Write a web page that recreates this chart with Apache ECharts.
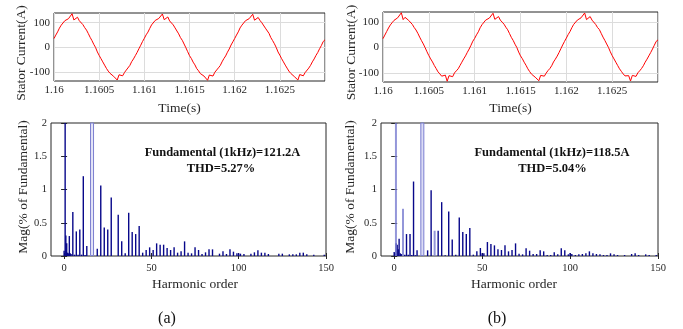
<!DOCTYPE html>
<html>
<head>
<meta charset="utf-8">
<script src="https://cdn.jsdelivr.net/npm/echarts@6/dist/echarts.min.js"></script>
<style>
  html, body { margin: 0; padding: 0; background: #fff; }
  #chart { width: 683px; height: 329px; }
</style>
</head>
<body>
<div id="chart"></div>
<script>
// Stator current samples, one every 20 µs from t = 1.16 s to 1.163 s
const T_START = 1.16;
const T_STEP = 0.00002;

const currentA = [
  36,50,63,78,90,98,108,113,116,113,136,111,118,122,108,100,92,80,70,56,
  41,28,13,0,-18,-32,-45,-58,-71,-84,-95,-104,-112,-116,-110,-131,-110,-117,-114,-101,
  -91,-83,-72,-57,-46,-33,-20,-5,9,24,
  37,51,62,77,91,97,109,114,117,112,135,112,117,123,107,101,91,79,71,55,
  40,29,14,-1,-17,-33,-44,-59,-70,-85,-94,-105,-113,-115,-109,-132,-111,-116,-115,-100,
  -92,-82,-73,-58,-45,-34,-19,-6,10,23,
  36,50,63,79,90,98,108,113,116,112,134,110,118,121,109,100,92,78,70,57,
  40,28,15,0,-18,-31,-45,-58,-71,-83,-95,-104,-112,-117,-110,-131,-109,-117,-114,-101,
  -93,-83,-72,-58,-46,-32,-20,-5,8,24,
  31
];

const currentB = [
  35,49,63,77,89,98,107,114,117,112,137,110,119,121,107,101,91,79,69,56,
  41,27,14,-1,-17,-32,-45,-57,-71,-83,-96,-104,-113,-116,-109,-133,-111,-116,-115,-100,
  -92,-84,-71,-58,-45,-33,-19,-6,9,25,
  36,50,62,78,90,97,108,113,116,113,135,111,118,122,108,100,92,80,70,55,
  40,28,13,0,-18,-33,-44,-58,-70,-84,-95,-105,-112,-117,-110,-131,-110,-117,-113,-101,
  -91,-83,-72,-57,-46,-34,-20,-5,10,24,
  37,51,63,78,91,98,108,113,117,112,136,110,117,122,108,101,91,79,71,56,
  41,28,14,0,-17,-32,-45,-58,-71,-84,-94,-104,-112,-116,-111,-132,-110,-116,-114,-100,
  -92,-83,-72,-58,-46,-33,-20,-6,9,24,
  30
];

// Harmonic spectra (% of fundamental); values above 2 run off the top of the axes
const harmA = [0,0.6,1,1.5,2,2.5,3,3.5,4,5,6,7,8,9,10,11,12,13,19,21,
  23,25,27,31,33,35,37,39,41,43,45,47,49,51,53,55,57,59,61,63,
  65,67,69,71,73,75,77,79,81,83,85,89,91,93,95,97,99,100,101,103,
  107,109,111,113,115,117,123,125,129,131,133,135,137,139,143,149];
const magA = [0.08,2.4,0.31,0.19,0.05,0.04,0.3,0.04,0.03,0.66,0.02,0.37,0.02,0.4,0.02,1.2,0.015,0.15,0.11,1.06,
  0.43,0.4,0.88,0.62,0.22,0.04,0.65,0.36,0.33,0.45,0.05,0.09,0.13,0.09,0.19,0.17,0.17,0.12,0.09,0.13,
  0.05,0.07,0.22,0.05,0.04,0.13,0.09,0.03,0.055,0.1,0.1,0.035,0.07,0.03,0.1,0.065,0.04,0.04,0.035,0.03,
  0.035,0.055,0.085,0.05,0.05,0.03,0.035,0.035,0.025,0.025,0.025,0.05,0.05,0.025,0.02,0.02];
const harmAWide = [16];
const magAWide = [2.4];

const harmB = [0,0.5,1.1,1.7,2.3,2.8,3.5,4,6,7,8,9,10,11,12,13,19,21,25,27,
  29,31,33,35,37,39,41,43,45,47,49,50,51,53,55,57,59,61,63,65,
  67,69,71,73,75,77,79,81,83,85,87,89,91,93,95,97,99,100,101,103,
  105,107,109,111,113,115,117,119,121,123,125,127,131,135,137,139,143,145,149];
const magB = [0.06,0.04,0.19,0.17,0.1,0.26,0.04,0.03,0.02,0.33,0.02,0.33,0.015,1.12,0.01,0.085,0.085,0.99,0.38,0.81,
  0.01,0.67,0.25,0.02,0.58,0.36,0.33,0.42,0.02,0.07,0.12,0.04,0.04,0.21,0.18,0.16,0.1,0.09,0.16,0.07,
  0.09,0.19,0.035,0.025,0.115,0.08,0.03,0.03,0.085,0.07,0.015,0.015,0.055,0.025,0.115,0.085,0.025,0.045,0.03,0.015,
  0.025,0.03,0.04,0.07,0.04,0.03,0.025,0.015,0.015,0.04,0.025,0.015,0.015,0.03,0.04,0.015,0.025,0.015,0.015];
const harmBLight = [1, 5, 23];
const magBLight = [2.4, 0.71, 0.38];
const harmBWide = [16];
const magBWide = [2.4];

const currentTicks = [-100, 0, 100];
const harmonicTicks = [0, 50, 100, 150];

const textA = ['Fundamental (1kHz)=121.2A', 'THD=5.27%'];
const textB = ['Fundamental (1kHz)=118.5A', 'THD=5.04%'];

// ---- styling ----
const FONT = 'Liberation Serif, Times New Roman, serif';
const INK = '#262626';
const DARK_BAR = '#07078a';

const toTimeSeries = arr => arr.map((v, i) => [+(T_START + i * T_STEP).toFixed(6), v]);
const pairs = (xs, ys) => xs.map((x, i) => [x, ys[i]]);

function timeAxis(grid) {
  return {
    type: 'value', gridIndex: grid, min: 1.16, max: 1.163, interval: 0.0005,
    axisLine: { show: false }, axisTick: { show: false },
    splitLine: { show: true, lineStyle: { color: '#dcdcdc', width: 1 } },
    axisLabel: {
      fontFamily: FONT, fontSize: 11, color: INK, margin: 4, showMaxLabel: false,
      formatter: v => String(+v.toFixed(4))
    }
  };
}
function currentAxis(grid, min, max) {
  return {
    type: 'value', gridIndex: grid, min: min, max: max,
    axisLine: { show: false },
    axisTick: { show: false, customValues: currentTicks },
    splitLine: { show: true, lineStyle: { color: '#dcdcdc', width: 1 } },
    axisLabel: { customValues: currentTicks, fontFamily: FONT, fontSize: 11, color: INK, margin: 4 }
  };
}
function harmAxis(grid, position, withLabels, visible) {
  return {
    type: 'value', gridIndex: grid, min: -7.5, max: 150, position: position, show: visible,
    axisLine: { show: false },
    axisTick: { show: true, inside: true, length: 3, customValues: harmonicTicks, lineStyle: { color: INK } },
    splitLine: { show: false },
    axisLabel: {
      show: withLabels, customValues: harmonicTicks,
      fontFamily: FONT, fontSize: 10.5, color: INK, margin: 7
    }
  };
}
function magAxis(grid, position, withLabels) {
  return {
    type: 'value', gridIndex: grid, min: 0, max: 2, interval: 0.5, position: position,
    axisLine: { show: false },
    axisTick: { show: true, inside: true, length: 3, lineStyle: { color: INK } },
    splitLine: { show: false },
    axisLabel: { show: withLabels, fontFamily: FONT, fontSize: 10.5, color: INK, margin: 4 }
  };
}
const frame = { show: true, borderColor: INK, borderWidth: 1, backgroundColor: '#fff' };

function label(text, x, y, opts) {
  return Object.assign({
    type: 'text', x: x, y: y, silent: true,
    style: { text: text, fontFamily: FONT, fontSize: 13.5, fill: INK, align: 'center', verticalAlign: 'middle' }
  }, opts || {});
}
function boldLabel(text, x, y) {
  return {
    type: 'text', x: x, y: y, silent: true, z: 100,
    style: { text: text, fontFamily: FONT, fontSize: 12.5, fontWeight: 'bold', fill: '#111', align: 'center', verticalAlign: 'middle' }
  };
}

const chart = echarts.init(document.getElementById('chart'));
chart.setOption({
  animation: false,
  backgroundColor: '#fff',
  grid: [
    Object.assign({ left: 54, top: 13, width: 271, height: 68 }, frame),
    Object.assign({ left: 383, top: 12, width: 275, height: 70 }, frame),
    Object.assign({ left: 51, top: 123, width: 275, height: 133 }, frame),
    Object.assign({ left: 381, top: 123, width: 277, height: 133 }, frame)
  ],
  xAxis: [
    timeAxis(0),
    timeAxis(1),
    harmAxis(2, 'bottom', true, true),
    harmAxis(2, 'top', false, true),
    harmAxis(3, 'bottom', true, true),
    harmAxis(3, 'top', false, true),
    harmAxis(3, 'top', false, false)
  ],
  yAxis: [
    currentAxis(0, -135, 139),
    currentAxis(1, -136, 140),
    magAxis(2, 'left', true),
    magAxis(2, 'right', false),
    magAxis(3, 'left', true),
    magAxis(3, 'right', false)
  ],
  series: [
    {
      type: 'line', xAxisIndex: 0, yAxisIndex: 0, data: toTimeSeries(currentA),
      showSymbol: false, lineStyle: { color: '#ff0000', width: 1 }, z: 5
    },
    {
      type: 'line', xAxisIndex: 1, yAxisIndex: 1, data: toTimeSeries(currentB),
      showSymbol: false, lineStyle: { color: '#ff0000', width: 1 }, z: 5
    },
    {
      type: 'bar', xAxisIndex: 2, yAxisIndex: 2, data: pairs(harmA, magA),
      barWidth: 1.4, itemStyle: { color: DARK_BAR }, clip: true
    },
    {
      type: 'bar', xAxisIndex: 3, yAxisIndex: 2, data: pairs(harmAWide, magAWide),
      barWidth: 4, clip: true,
      itemStyle: { color: 'rgba(225,226,246,0.9)', borderColor: '#7b7ed0', borderWidth: 1 }
    },
    {
      type: 'bar', xAxisIndex: 4, yAxisIndex: 4, data: pairs(harmB, magB),
      barWidth: 1.4, itemStyle: { color: DARK_BAR }, clip: true
    },
    {
      type: 'bar', xAxisIndex: 5, yAxisIndex: 4, data: pairs(harmBLight, magBLight),
      barWidth: 2, clip: true, itemStyle: { color: 'rgba(120,124,208,0.8)' }
    },
    {
      type: 'bar', xAxisIndex: 6, yAxisIndex: 4, data: pairs(harmBWide, magBWide),
      barWidth: 4, clip: true,
      itemStyle: { color: 'rgba(215,216,244,0.9)', borderColor: '#7b7ed0', borderWidth: 1 }
    }
  ],
  graphic: [
    label('Stator Current(A)', 21.7, 53, { rotation: Math.PI / 2 }),
    label('Stator Current(A)', 351.5, 52.5, { rotation: Math.PI / 2 }),
    label('Time(s)', 179.5, 108),
    label('Time(s)', 510.5, 108),
    label('Mag(% of Fundamental)', 23.3, 187, { rotation: Math.PI / 2 }),
    label('Mag(% of Fundamental)', 350, 187, { rotation: Math.PI / 2 }),
    label('Harmonic order', 195, 284),
    label('Harmonic order', 514, 284),
    boldLabel(textA[0], 222.5, 152.5),
    boldLabel(textA[1], 221, 168.5),
    boldLabel(textB[0], 552, 152.5),
    boldLabel(textB[1], 552.5, 169),
    label('(a)', 167, 319, { style: { text: '(a)', fontFamily: FONT, fontSize: 16, fill: '#111', align: 'center', verticalAlign: 'middle' } }),
    label('(b)', 497, 319, { style: { text: '(b)', fontFamily: FONT, fontSize: 16, fill: '#111', align: 'center', verticalAlign: 'middle' } })
  ]
});
</script>
</body>
</html>
